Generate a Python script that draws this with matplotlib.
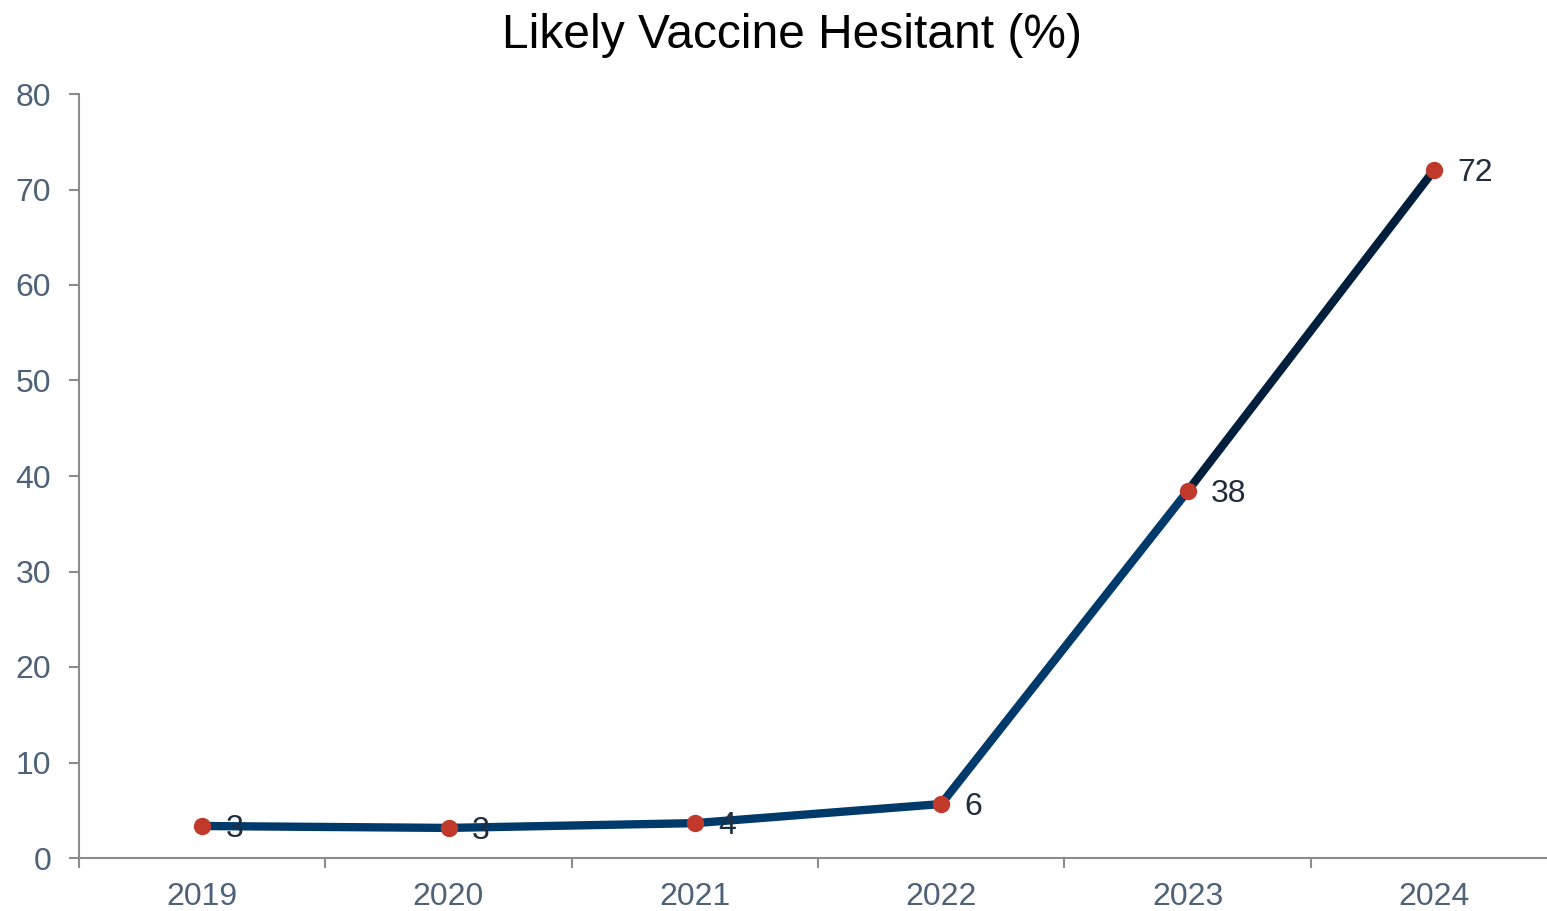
import numpy as np
import matplotlib.pyplot as plt

plt.rcParams['font.family'] = ['Liberation Sans', 'DejaVu Sans']

# Share of respondents likely to be vaccine hesitant, by survey year
years = ['2019', '2020', '2021', '2022', '2023', '2024']
hesitant = [3.35, 3.15, 3.65, 5.65, 38.4, 72.0]

line_blue = '#003a6b'
line_dark = '#001f3d'
dot_red = '#c0392b'
label_col = '#1f2d3d'
tick_col = '#4d6278'
axis_col = '#8c8c8c'

fig = plt.figure(figsize=(15.47, 9.11), dpi=100)
ax = fig.add_axes([79 / 1547, 53 / 911, 1478 / 1547, 764 / 911])

x = np.arange(len(years))
y = np.array(hesitant)

# rising segment into 2024 is drawn darker
ax.plot(x[:5], y[:5], color=line_blue, lw=6, solid_joinstyle='round', solid_capstyle='round', zorder=2)
ax.plot(x[4:], y[4:], color=line_dark, lw=6, solid_capstyle='round', zorder=2)
ax.plot(x, y, 'o', color=dot_red, ms=12.5, mec='none', zorder=3)

for xi, yi in zip(x, y):
    ax.annotate(f'{yi:.0f}', (xi, yi), xytext=(17, -2), textcoords='offset points',
                ha='left', va='center', fontsize=23, color=label_col, zorder=4)

ax.set_xlim(-0.5, 5.5)
ax.set_ylim(0, 80)
ax.set_yticks(np.arange(0, 81, 10))
ax.set_xticks(x)
ax.set_xticklabels(years)
ax.set_xticks(np.arange(-0.5, 5.6, 1), minor=True)

ax.tick_params(axis='x', which='major', length=0, pad=17, labelsize=23, labelcolor=tick_col)
ax.tick_params(axis='x', which='minor', length=7, width=1.5, color=axis_col, direction='out')
ax.tick_params(axis='y', length=7, width=1.5, color=axis_col, pad=13, labelsize=23, labelcolor=tick_col)

for side in ['top', 'right']:
    ax.spines[side].set_visible(False)
for side in ['left', 'bottom']:
    ax.spines[side].set_color(axis_col)
    ax.spines[side].set_linewidth(1.5)

fig.text(792 / 1547, 1 - 35 / 911, 'Likely Vaccine Hesitant (%)', ha='center', va='center',
         fontsize=34.5, color='black')

fig.savefig('out.png', dpi=100)
